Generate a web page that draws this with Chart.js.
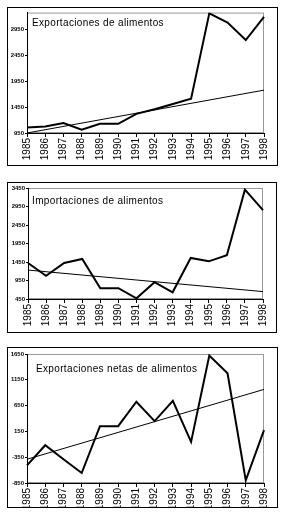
<!DOCTYPE html>
<html>
<head>
<meta charset="utf-8">
<script src="https://cdn.jsdelivr.net/npm/chart.js@4/dist/chart.umd.min.js"></script>
<style>
  body { margin: 0; background: #fff; width: 285px; height: 520px; position: relative; overflow: hidden; }
  .box { position: absolute; border: 1px solid #000; box-sizing: border-box; }
  .box canvas { display: block; }
  .title { position: absolute; font: 10px "Liberation Sans", Arial, sans-serif; line-height: 12px;
           letter-spacing: 0.35px; color: #000; white-space: nowrap; }
</style>
</head>
<body>
<div class="box" style="left:7px;top:7px;width:271px;height:159px"><canvas id="exportsGraph"></canvas></div>
<div class="box" style="left:7px;top:182px;width:270px;height:151px"><canvas id="importsGraph"></canvas></div>
<div class="box" style="left:7px;top:347px;width:271px;height:161px"><canvas id="netGraph"></canvas></div>
<div class="title" style="left:32px;top:17px">Exportaciones de alimentos</div>
<div class="title" style="left:32px;top:195px">Importaciones de alimentos</div>
<div class="title" style="left:36px;top:363px">Exportaciones netas de alimentos</div>
<script>
// Data
const years = ["1985", "1986", "1987", "1988", "1989", "1990", "1991", "1992", "1993", "1994", "1995", "1996", "1997", "1998"];

const exportsValues = [1058, 1077, 1140, 1013, 1128, 1128, 1318, 1407, 1509, 1610, 3255, 3077, 2741, 3187];
const exportsTrend = [950, null, null, null, null, null, null, null, null, null, null, null, null, 1776];
const exportsTicks = [950, 1450, 1950, 2450, 2950];

const importsValues = [1423, 1077, 1423, 1532, 741, 741, 468, 905, 632, 1559, 1468, 1632, 3405, 2850];
const importsTrend = [1232, null, null, null, null, null, null, null, null, null, null, null, null, 650];
const importsTicks = [450, 950, 1450, 1950, 2450, 2950, 3450];

const netValues = [-507, -118, -390, -656, 251, 251, 725, 349, 744, -53, 1619, 1275, -798, 174];
const netTrend = [-390, null, null, null, null, null, null, null, null, null, null, null, null, 964];
const netTicks = [-850, -350, 150, 650, 1150, 1650];

// gray frame on top / right of the plot area
const framePlugin = {
    id: "frame",
    beforeDraw(chart) {
        const a = chart.chartArea;
        const ctx = chart.ctx;
        ctx.save();
        ctx.strokeStyle = "#999";
        ctx.lineWidth = 1;
        ctx.strokeRect(a.left + 0.5, a.top + 0.5, a.right - a.left - 1, a.bottom - a.top - 1);
        ctx.restore();
    }
};

function makePanel(id, w, h, values, trend, ticks, min, max, pad, yWidth, xHeight) {
    const canvas = document.getElementById(id);
    canvas.width = w;
    canvas.height = h;
    canvas.style.width = w + "px";
    canvas.style.height = h + "px";
    return new Chart(canvas.getContext("2d"), {
        type: "line",
        data: {
            labels: years,
            datasets: [
                { data: values, borderColor: "#000", borderWidth: 2, pointRadius: 0, tension: 0, fill: false },
                { data: trend, borderColor: "#000", borderWidth: 1, pointRadius: 0, tension: 0, fill: false, spanGaps: true }
            ]
        },
        options: {
            responsive: false,
            animation: false,
            events: [],
            layout: { padding: pad },
            plugins: { legend: { display: false }, tooltip: { enabled: false } },
            scales: {
                x: {
                    offset: false,
                    grid: { drawOnChartArea: false, drawTicks: true, tickLength: 4, color: "#000" },
                    border: { color: "#000", width: 1 },
                    ticks: {
                        autoSkip: false, minRotation: 90, maxRotation: 90, padding: 1, color: "#000",
                        font: { family: "'Liberation Sans', Arial", size: 10 }
                    },
                    afterFit: scale => { scale.height = xHeight; }
                },
                y: {
                    min: min,
                    max: max,
                    grid: { drawOnChartArea: false, drawTicks: true, tickLength: 2, color: "#000" },
                    border: { color: "#000", width: 1 },
                    ticks: {
                        padding: 1, color: "#000",
                        font: { family: "'Liberation Sans Narrow', 'Liberation Sans', Arial", size: 6, weight: "bold" },
                        callback: v => String(v)
                    },
                    afterBuildTicks: scale => { scale.ticks = ticks.map(v => ({ value: v })); },
                    afterFit: scale => { scale.width = yWidth; }
                }
            }
        },
        plugins: [framePlugin]
    });
}

makePanel("exportsGraph", 269, 157, exportsValues, exportsTrend, exportsTicks, 950, 3270,
    { left: 0, right: 8, top: 4, bottom: 0 }, 19, 32);
makePanel("importsGraph", 268, 149, importsValues, importsTrend, importsTicks, 450, 3450,
    { left: 0, right: 6, top: 5, bottom: 0 }, 20, 33);
makePanel("netGraph", 269, 159, netValues, netTrend, netTicks, -850, 1650,
    { left: 0, right: 6, top: 6, bottom: 0 }, 19, 24);
</script>
</body>
</html>
